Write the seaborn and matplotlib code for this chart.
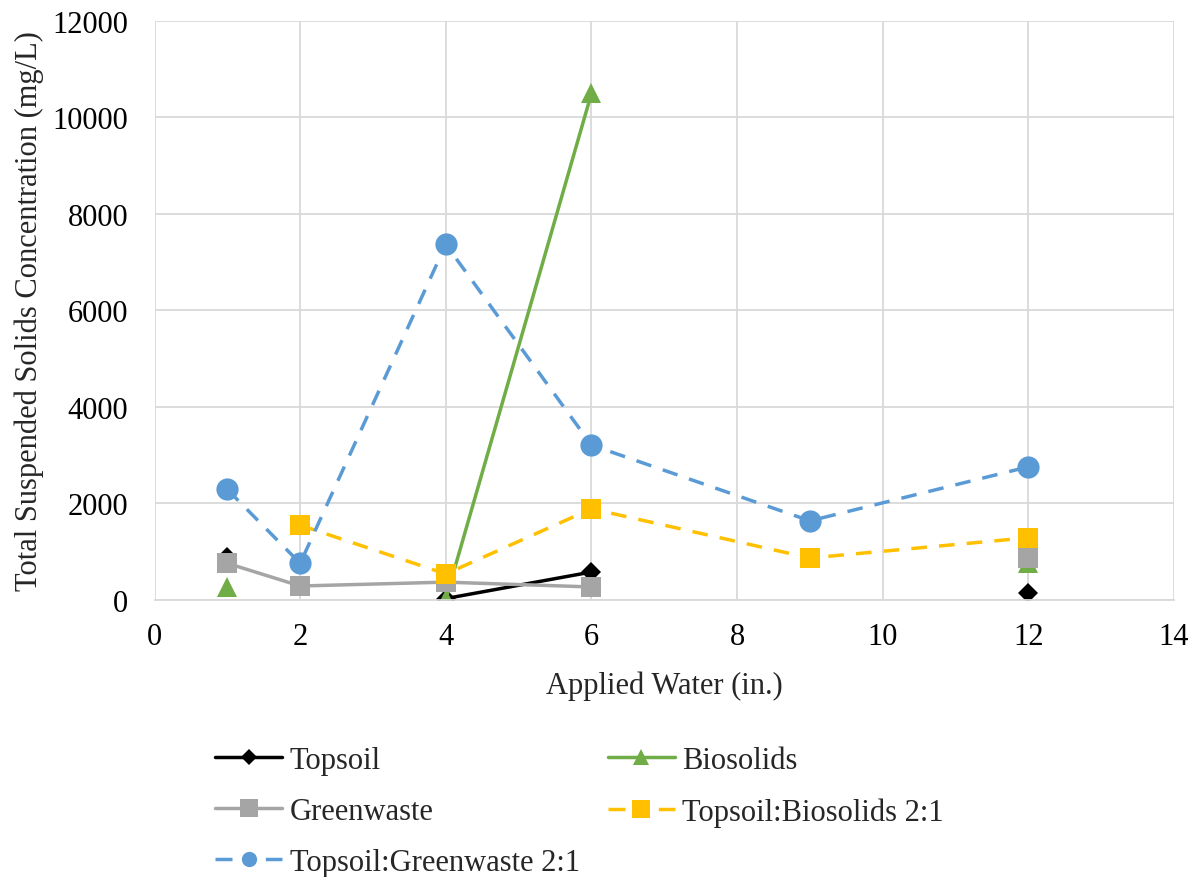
import numpy as np
import pandas as pd
import matplotlib.pyplot as plt
from matplotlib.lines import Line2D
import seaborn as sns

sns.set_theme(style="whitegrid", rc={"grid.color": "#d9d9d9", "grid.linewidth": 1.3})
plt.rcParams["font.family"] = ["Liberation Serif", "DejaVu Serif"]

applied_water = [1, 2, 4, 6, 9, 12]
topsoil = [900, np.nan, 30, 580, np.nan, 150]
biosolids = [270, np.nan, 20, 10500, np.nan, 760]
greenwaste = [760, 290, 370, 270, np.nan, 860]
topsoil_bio = [np.nan, 1550, 540, 1890, 870, 1290]
topsoil_green = [2290, 760, 7370, 3210, 1640, 2760]

DASH = (0, (4.5, 3.5))
LEG_DASH = (0, (4.9, 9.6))
series = [
    ("Topsoil", topsoil, "black", "D", "-", 10.5, 8),
    ("Biosolids", biosolids, "#70ad47", "^", "-", 15, 11),
    ("Greenwaste", greenwaste, "#a5a5a5", "s", "-", 15, 13),
    ("Topsoil:Biosolids 2:1", topsoil_bio, "#ffc000", "s", DASH, 15, 13),
    ("Topsoil:Greenwaste 2:1", topsoil_green, "#5b9bd5", "o", DASH, 16, 11),
]

fig, ax = plt.subplots(figsize=(11.98, 8.78), dpi=100)
fig.subplots_adjust(left=0.129, right=0.98, top=0.975, bottom=0.3155)

handles = {}
for name, vals, color, marker, ls, ms, lms in series:
    d = pd.DataFrame({"x": applied_water, "y": vals})
    # break the line where a value is missing, like the spreadsheet does
    d["seg"] = d["y"].isna().cumsum()
    d = d.dropna()
    sns.lineplot(data=d, x="x", y="y", units="seg", estimator=None, ax=ax,
                 color=color, marker=marker, markersize=ms, linestyle=ls,
                 linewidth=2.5, markeredgewidth=0, legend=False)
    handles[name] = Line2D([], [], color=color, marker=marker, markersize=lms,
                           linestyle=LEG_DASH if ls != "-" else "-",
                           linewidth=2.5, markeredgewidth=0)

ax.set_xlim(0, 14)
ax.set_ylim(0, 12000)
ax.set_xticks(range(0, 15, 2))
ax.set_yticks(range(0, 12001, 2000))
ax.tick_params(labelsize=22, colors="black", length=0)
ax.tick_params(axis="y", pad=19)
ax.tick_params(axis="x", pad=16)
ax.set_xlabel("Applied Water (in.)", fontsize=22, labelpad=14)
ax.set_ylabel("Total Suspended Solids Concentration (mg/L)", fontsize=22, labelpad=6)
for s in ["left", "top", "right"]:
    ax.spines[s].set_visible(False)
ax.spines["bottom"].set_color("#d9d9d9")
ax.spines["bottom"].set_linewidth(1.3)

order = ["Topsoil", "Greenwaste", "Topsoil:Greenwaste 2:1", "Biosolids", "Topsoil:Biosolids 2:1"]
fig.legend([handles[n] for n in order], order, loc="upper left", bbox_to_anchor=(0.1795, 0.149),
           ncol=2, frameon=False, fontsize=22, handlelength=2.2, columnspacing=0.9,
           labelspacing=0.72, handletextpad=0.25, borderpad=0, borderaxespad=0)

fig.savefig("out.png", dpi=100)
